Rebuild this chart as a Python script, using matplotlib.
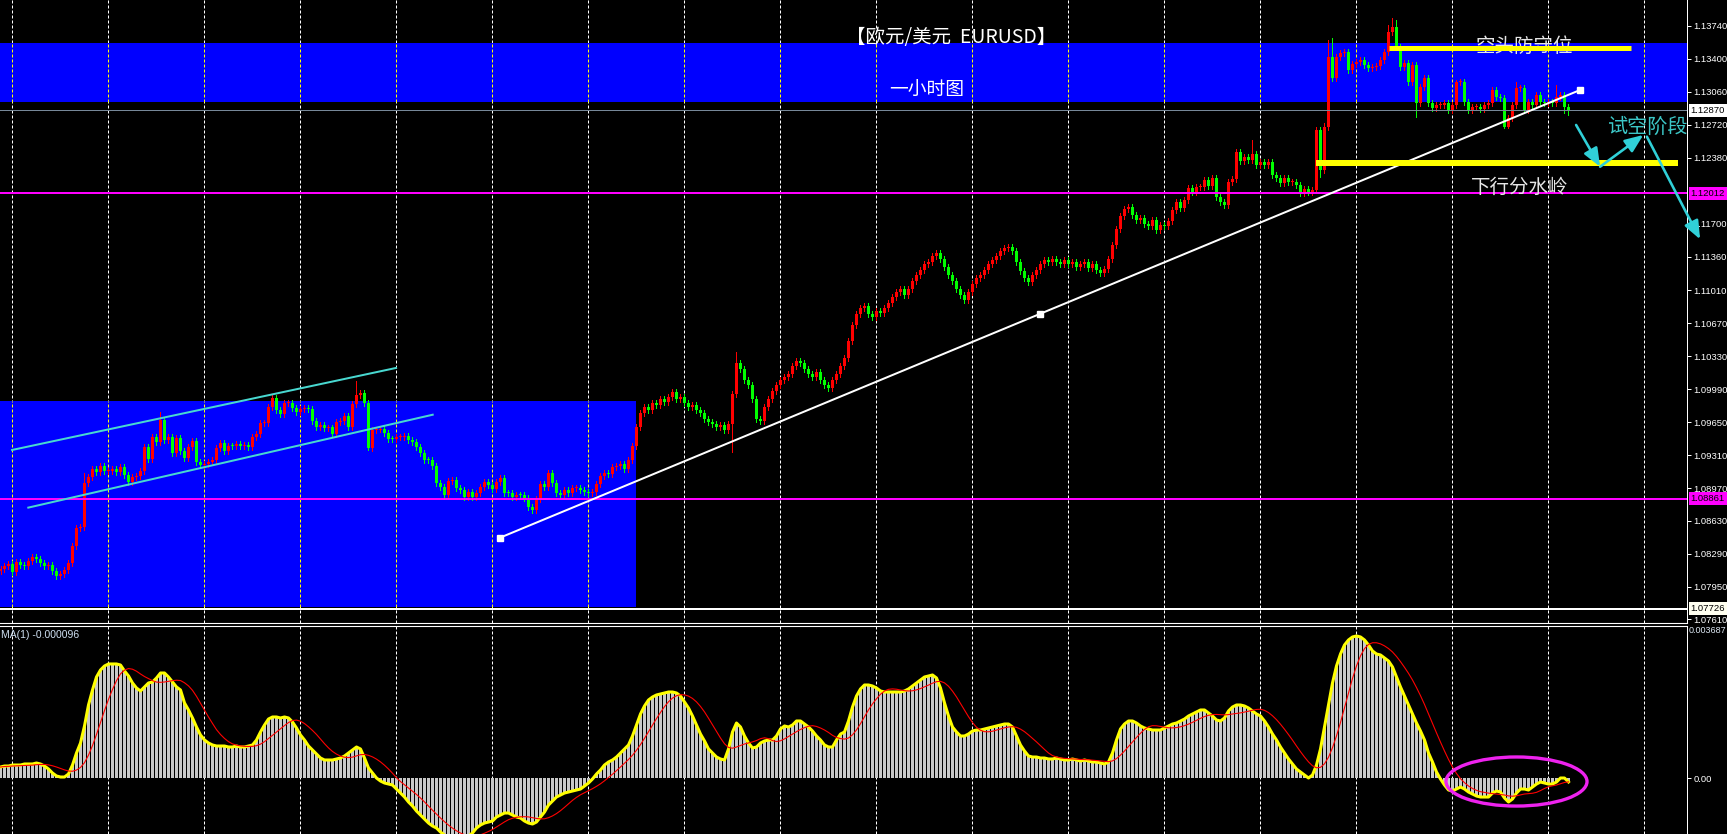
import numpy as np
import pandas as pd
import matplotlib
matplotlib.use('Agg')
import matplotlib.pyplot as plt
from matplotlib.patches import Rectangle, Ellipse

plt.rcParams['font.family'] = ['Noto Sans CJK SC', 'DejaVu Sans']

# EURUSD H1 closes (bar 0 = left edge)
closes = [
    1.08135, 1.08166, 1.08186, 1.08104, 1.08207, 1.08176, 1.08166, 1.08217, 1.08259, 1.08238,
    1.08197, 1.08166, 1.08176, 1.08114, 1.08063, 1.08083, 1.08125, 1.08197, 1.08372, 1.08558,
    1.08568, 1.09023, 1.09084, 1.09167, 1.09136, 1.09198, 1.09146, 1.09150, 1.09167, 1.09136,
    1.09188, 1.09105, 1.09033, 1.09084, 1.09095, 1.09146, 1.09394, 1.09270, 1.09497, 1.09446,
    1.09673, 1.09466, 1.09497, 1.09332, 1.09487, 1.09353, 1.09281, 1.09394, 1.09456, 1.09239,
    1.09208, 1.09219, 1.09239, 1.09260, 1.09384, 1.09435, 1.09353, 1.09404, 1.09400, 1.09425,
    1.09404, 1.09415, 1.09394, 1.09497, 1.09528, 1.09642, 1.09645, 1.09807, 1.09900, 1.09776,
    1.09735, 1.09848, 1.09850, 1.09797, 1.09755, 1.09786, 1.09797, 1.09786, 1.09662, 1.09600,
    1.09621, 1.09590, 1.09596, 1.09528, 1.09652, 1.09662, 1.09714, 1.09600, 1.09838, 1.09931,
    1.09952, 1.09848, 1.09384, 1.09570, 1.09574, 1.09580, 1.09539, 1.09477, 1.09475, 1.09497,
    1.09500, 1.09504, 1.09466, 1.09446, 1.09394, 1.09332, 1.09260, 1.09258, 1.09198, 1.09023,
    1.08981, 1.08899, 1.09043, 1.09053, 1.08971, 1.08950, 1.08878, 1.08930, 1.08878, 1.08919,
    1.08981, 1.09033, 1.09002, 1.08961, 1.09033, 1.09074, 1.08919, 1.08915, 1.08878, 1.08899,
    1.08895, 1.08868, 1.08775, 1.08744, 1.08857, 1.09012, 1.08981, 1.09126, 1.09023, 1.08919,
    1.08899, 1.08950, 1.08919, 1.08971, 1.08975, 1.08950, 1.08930, 1.08919, 1.08930, 1.09012,
    1.09095, 1.09126, 1.09115, 1.09188, 1.09198, 1.09219, 1.09167, 1.09260, 1.09404, 1.09600,
    1.09745, 1.09807, 1.09776, 1.09848, 1.09828, 1.09890, 1.09859, 1.09910, 1.09962, 1.09890,
    1.09910, 1.09848, 1.09807, 1.09828, 1.09776, 1.09745, 1.09683, 1.09652, 1.09632, 1.09600,
    1.09621, 1.09570, 1.09632, 1.09941, 1.10261, 1.10199, 1.10086, 1.10034, 1.09890, 1.09683,
    1.09662, 1.09807, 1.09890, 1.09972, 1.10034, 1.10086, 1.10117, 1.10148, 1.10230, 1.10282,
    1.10261, 1.10199, 1.10148, 1.10117, 1.10168, 1.10086, 1.10034, 1.10003, 1.10086, 1.10148,
    1.10230, 1.10313, 1.10488, 1.10653, 1.10767, 1.10829, 1.10850, 1.10767, 1.10736, 1.10798,
    1.10777, 1.10829, 1.10880, 1.10942, 1.10994, 1.11025, 1.10963, 1.11025, 1.11108, 1.11169,
    1.11221, 1.11283, 1.11304, 1.11366, 1.11397, 1.11335, 1.11252, 1.11169, 1.11108, 1.11025,
    1.10963, 1.10911, 1.10994, 1.11077, 1.11139, 1.11169, 1.11221, 1.11283, 1.11324, 1.11366,
    1.11417, 1.11448, 1.11459, 1.11417, 1.11304, 1.11211, 1.11139, 1.11097, 1.11169, 1.11221,
    1.11283, 1.11324, 1.11304, 1.11335, 1.11304, 1.11283, 1.11324, 1.11283, 1.11304, 1.11252,
    1.11283, 1.11304, 1.11242, 1.11283, 1.11221, 1.11190, 1.11231, 1.11335, 1.11479, 1.11644,
    1.11778, 1.11851, 1.11871, 1.11789, 1.11737, 1.11758, 1.11696, 1.11675, 1.11737, 1.11634,
    1.11686, 1.11675, 1.11727, 1.11840, 1.11923, 1.11861, 1.11944, 1.12068, 1.12026, 1.12078,
    1.12080, 1.12150, 1.12088, 1.12171, 1.11975, 1.11923, 1.11892, 1.12129, 1.12160, 1.12439,
    1.12346, 1.12387, 1.12357, 1.12418, 1.12305, 1.12336, 1.12305, 1.12336, 1.12202, 1.12171,
    1.12119, 1.12171, 1.12129, 1.12133, 1.12098, 1.12016, 1.12057, 1.12026, 1.12047, 1.12666,
    1.12253, 1.12697, 1.13420, 1.13203, 1.13420, 1.13461, 1.13471, 1.13286, 1.13347, 1.13368,
    1.13389, 1.13337, 1.13306, 1.13316, 1.13327, 1.13389, 1.13471, 1.13678, 1.13729, 1.13523,
    1.13316, 1.13358, 1.13162, 1.13337, 1.12945, 1.13110, 1.13203, 1.12945, 1.12893, 1.12924,
    1.12928, 1.12945, 1.12873, 1.12924, 1.13162, 1.13165, 1.12955, 1.12873, 1.12904, 1.12906,
    1.12883, 1.12924, 1.12945, 1.13079, 1.13007, 1.12996, 1.12697, 1.12790, 1.12924, 1.13100,
    1.13102, 1.12873, 1.12955, 1.12924, 1.13027, 1.12955, 1.12945, 1.12955, 1.12945, 1.13007,
    1.13027, 1.12904, 1.12870,
]
first_open = 1.08110

# long wicks that stand out on the chart
spike_hi = {21: 1.09126, 40: 1.09759, 89: 1.10075, 184: 1.10375, 313: 1.12563,
            331: 1.12738, 332: 1.13595, 333: 1.13615, 347: 1.13750, 348: 1.13819,
            349: 1.13802, 364: 1.13182, 379: 1.13165, 389: 1.13131}
spike_lo = {92: 1.09363, 183: 1.09347, 330: 1.12184, 354: 1.12803, 376: 1.12687,
            377: 1.12687, 391: 1.12842, 392: 1.12822}

# oscillator main line, in millionths
osma_e6 = [
    267, 291, 291, 315, 315, 315, 340, 340, 340, 364,
    340, 291, 218, 121, 49, 24, 24, 97, 315, 607,
    849, 1262, 1771, 2135, 2450, 2620, 2717, 2766, 2766, 2766,
    2741, 2596, 2475, 2305, 2183, 2111, 2208, 2305, 2329, 2426,
    2547, 2547, 2450, 2329, 2208, 2135, 1820, 1650, 1456, 1237,
    1043, 922, 849, 801, 776, 776, 776, 752, 752, 776,
    752, 752, 776, 801, 922, 1116, 1286, 1431, 1480, 1480,
    1456, 1480, 1456, 1359, 1213, 1043, 922, 776, 679, 582,
    485, 437, 437, 437, 461, 485, 534, 607, 679, 752,
    704, 485, 243, 121, 0, -73, -121, -146, -170, -267,
    -364, -461, -582, -679, -801, -898, -995, -1092, -1164, -1213,
    -1310, -1383, -1431, -1456, -1480, -1480, -1456, -1407, -1334, -1213,
    -1140, -1092, -1067, -1043, -946, -898, -849, -849, -898, -946,
    -970, -1043, -1092, -1116, -1067, -946, -825, -655, -558, -461,
    -412, -364, -340, -315, -291, -267, -194, -121, -24, 97,
    194, 315, 388, 437, 509, 607, 704, 801, 1019, 1286,
    1553, 1747, 1892, 1965, 2014, 2038, 2062, 2086, 2086, 2062,
    1989, 1844, 1698, 1504, 1286, 1067, 898, 704, 607, 509,
    461, 437, 704, 1116, 1334, 1237, 1019, 849, 728, 752,
    849, 898, 922, 922, 1019, 1189, 1262, 1237, 1286, 1383,
    1383, 1310, 1237, 1140, 1019, 922, 801, 752, 752, 922,
    1067, 1116, 1383, 1722, 1989, 2159, 2256, 2256, 2232, 2183,
    2111, 2086, 2086, 2086, 2086, 2086, 2111, 2159, 2232, 2305,
    2377, 2450, 2475, 2499, 2426, 2183, 1820, 1504, 1237, 1116,
    1019, 1019, 1067, 1140, 1164, 1164, 1189, 1213, 1237, 1262,
    1286, 1310, 1310, 1237, 1019, 801, 655, 534, 509, 509,
    485, 485, 461, 461, 485, 461, 437, 437, 461, 437,
    412, 437, 412, 388, 388, 364, 340, 388, 607, 922,
    1189, 1310, 1383, 1383, 1334, 1262, 1213, 1189, 1164, 1164,
    1164, 1213, 1262, 1310, 1334, 1383, 1431, 1504, 1553, 1601,
    1650, 1650, 1577, 1504, 1407, 1383, 1456, 1625, 1722, 1771,
    1771, 1747, 1698, 1625, 1553, 1504, 1383, 1237, 1067, 922,
    752, 607, 461, 340, 218, 146, 73, 0, 73, 315,
    704, 1237, 1771, 2305, 2717, 3008, 3227, 3348, 3421, 3445,
    3421, 3348, 3227, 3081, 3008, 2984, 2911, 2838, 2693, 2450,
    2208, 1989, 1771, 1553, 1334, 1140, 922, 607, 388, 146,
    -24, -170, -291, -315, -267, -218, -267, -340, -388, -437,
    -461, -461, -461, -364, -315, -340, -485, -582, -509, -364,
    -267, -267, -291, -218, -146, -97, -121, -146, -146, -97,
    0, 0, -96,
]

price_ticks = [1.13740, 1.13400, 1.13060, 1.12720, 1.12380, 1.11700, 1.11360, 1.11010,
               1.10670, 1.10330, 1.09990, 1.09650, 1.09310, 1.08970, 1.08630, 1.08290,
               1.07950]
bottom_tick = (1.07616, '1.07610')
day_starts = [3, 27, 51, 75, 99, 123, 147, 171, 195, 219, 243, 267, 291, 315, 339, 363, 387, 411]

bid = 1.12870
magenta_levels = [1.12012, 1.08861]
white_level = 1.07726
zone_top = (1.12959, 1.13565)
zone_low = (158.9, 1.07746, 1.09869)      # right edge (bar), bottom, top

channel_upper = ([2.9, 98.9], [1.09363, 1.10210])
channel_lower = ([6.95, 108.05], [1.08768, 1.09727])
trend_line = ([124.9, 394.9], [1.08458, 1.13079])
defense_line = ([347.1, 407.6], 1.13509)
support_line = ([328.9, 419.4], 1.12329)
arrows = [((393.9, 1.12718), (399.9, 1.12287)),
          ((399.9, 1.12287), (410.7, 1.12615)),
          ((411.6, 1.12597), (424.9, 1.11538))]

BULL, BEAR = '#ff0000', '#00ff00'
DASH = (0, (3, 2))
PX = 0.72  # one pixel in points at dpi 100
AXFONT = dict(family='Liberation Sans', fontsize=6.8)

fig = plt.figure(figsize=(17.27, 8.34), dpi=100, facecolor='black')
W, H = 1727, 834
ax = fig.add_axes([0, 1 - 623 / H, 1687 / W, 623 / H], facecolor='black')
ax2 = fig.add_axes([0, 0, 1687 / W, 208 / H], facecolor='black')

xlim = (-0.125, 421.625)
for a in (ax, ax2):
    a.set_xlim(*xlim)
    a.set_xticks([])
    for s in a.spines.values():
        s.set_visible(False)
    a.spines['right'].set_visible(True)
    a.spines['right'].set_color('white')
    a.spines['right'].set_linewidth(PX)
ax.spines['bottom'].set_visible(True)
ax.spines['bottom'].set_color('white')
ax2.spines['top'].set_visible(True)
ax2.spines['top'].set_color('white')

ax.set_ylim(1.07577, 1.14008)

# ---- background zones and grid ----
ax.vlines(day_starts, 1.07577, 1.14008, color='white', lw=PX, linestyles=DASH, zorder=0.5)
ax.axhspan(*zone_top, color='#0000ff', lw=0, zorder=1)
ax.add_patch(Rectangle((xlim[0], zone_low[1]), zone_low[0] - xlim[0], zone_low[2] - zone_low[1],
                       color='#0000ff', lw=0, zorder=1))
ax.vlines(day_starts, *zone_top, color='yellow', lw=PX, linestyles=DASH, zorder=1.5)
ax.vlines([d for d in day_starts if d < zone_low[0]], zone_low[1], zone_low[2],
          color='yellow', lw=PX, linestyles=DASH, zorder=1.5)

# ---- candles ----
c = np.array(closes)
o = np.concatenate([[first_open], c[:-1]])
x = np.arange(len(c))
hi = np.maximum(o, c) + 0.0003
lo = np.minimum(o, c) - 0.0003
for k, v in spike_hi.items():
    hi[k] = v
for k, v in spike_lo.items():
    lo[k] = v
cols = np.where(c >= o, BULL, BEAR)
ax.vlines(x, lo, hi, colors=cols, lw=PX, zorder=3, antialiased=False)
body = np.maximum(np.abs(c - o), 0.0001)
ax.bar(x, body, bottom=np.minimum(o, c), width=0.75, color=cols, lw=0, zorder=4, antialiased=False)

# ---- horizontal levels ----
ax.axhline(bid, color='#778899', lw=PX, zorder=5)
for lv in magenta_levels:
    ax.axhline(lv, color='#ff00ff', lw=2 * PX, zorder=5)
ax.axhline(white_level, color='white', lw=2 * PX, zorder=5)

# ---- drawn objects ----
cyan = '#48d8d0'
ax.plot(*channel_upper, color=cyan, lw=2 * PX, zorder=6)
ax.plot(*channel_lower, color=cyan, lw=2 * PX, zorder=6)
tx, ty = trend_line
ax.plot(tx, ty, color='white', lw=2 * PX, zorder=6)
ax.plot([tx[0], (tx[0] + tx[1]) / 2, tx[1]], [ty[0], (ty[0] + ty[1]) / 2, ty[1]], 's',
        color='white', ms=4.5, zorder=6)

ax.text(237.6, 1.13616, '【欧元/美元  EURUSD】', color='white', fontsize=14, ha='center', va='center', zorder=7)
ax.text(231.6, 1.13079, '一小时图', color='white', fontsize=13.5, ha='center', va='center', zorder=7)
ax.text(380.9, 1.13533, '空头防守位', color='#e6e6e6', fontsize=14, ha='center', va='center', zorder=7)
ax.text(379.9, 1.12078, '下行分水岭', color='#e6e6e6', fontsize=14, ha='center', va='center', zorder=7)
ax.text(412.0, 1.12697, '试空阶段', color='#3cc8c8', fontsize=14.5, ha='center', va='center',
        zorder=7, clip_on=False)

ax.hlines(defense_line[1], *defense_line[0], color='yellow', lw=5 * PX, zorder=8)
ax.hlines(support_line[1], *support_line[0], color='yellow', lw=6 * PX, zorder=8)

for (x0, y0), (x1, y1) in arrows:
    ax.annotate('', xy=(x1, y1), xytext=(x0, y0), annotation_clip=False, zorder=9,
                arrowprops=dict(arrowstyle='-|>,head_length=1.1,head_width=0.45', color='#30d0d8',
                                lw=2.6 * PX, shrinkA=0, shrinkB=0))

# ---- price axis ----
ax.yaxis.tick_right()
ax.set_yticks(price_ticks + [bottom_tick[0]])
ax.set_yticklabels([f'{t:.5f}' for t in price_ticks] + [bottom_tick[1]], color='white', **AXFONT)
ax.tick_params(axis='y', colors='white', length=3, width=PX, pad=1.5)


def axis_box(a, y, text, fc):
    a.text(1 + 3.5 / 1687, y, text, transform=a.get_yaxis_transform(), ha='left', va='center',
           color='black', zorder=10, clip_on=False,
           bbox=dict(boxstyle='square,pad=0.2', fc=fc, ec='none'), **AXFONT)


axis_box(ax, bid, f'{bid:.5f}', 'white')
for lv in magenta_levels:
    axis_box(ax, lv, f'{lv:.5f}', '#ff00ff')
axis_box(ax, white_level, f'{white_level:.5f}', '#fffff0')

# ---- oscillator panel ----
osma = np.array(osma_e6) / 1e6
signal = pd.Series(osma).rolling(9, min_periods=1).mean()
ax2.set_ylim(-0.001358, 0.003687)
ax2.vlines(day_starts, -0.001358, 0.003687, color='white', lw=PX, linestyles=DASH, zorder=0.5)
ax2.bar(x, osma, width=0.75, color='#c8c8c8', lw=0, zorder=2, antialiased=False)
ax2.plot(x, osma, color='#ffff00', lw=2.2, zorder=3)
ax2.plot(x, signal, color='#ff0000', lw=0.8, zorder=4)
ax2.add_patch(Ellipse((379.0, -0.000085), 35.25, 0.00119, fill=False, ec='#ee22ee', lw=2.4, zorder=5))

ax2.yaxis.tick_right()
ax2.set_yticks([0])
ax2.set_yticklabels(['0.00'], color='white', **AXFONT)
ax2.tick_params(axis='y', colors='white', length=3, width=PX, pad=1.5)
ax2.text(1 + 2 / 1687, 0.003687, '0.003687', transform=ax2.get_yaxis_transform(), ha='left',
         va='top', color='#dde8f4', clip_on=False, family='Liberation Sans', fontsize=6.5)
fig.text(1 / W, 1 - 634.5 / H, 'MA(1) -0.000096', ha='left', va='center', fontsize=7.5,
         family='Liberation Sans', color='#cfe0f2')

fig.savefig('out.png', dpi=100, facecolor='black')
